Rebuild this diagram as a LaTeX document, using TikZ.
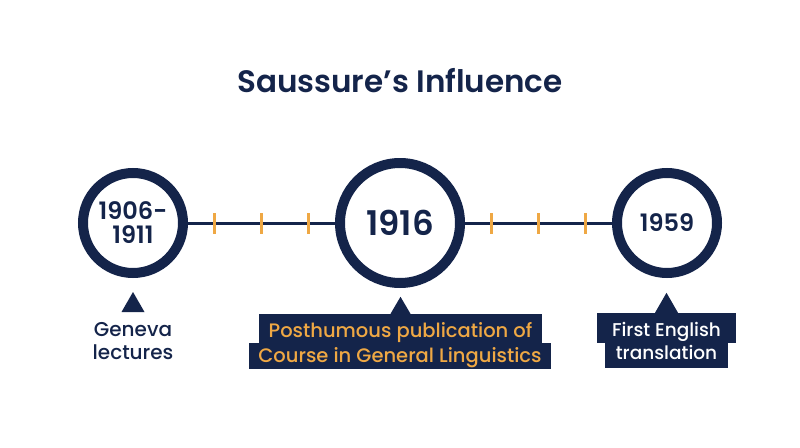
\documentclass[tikz,border=0pt]{standalone}
\usepackage{fontspec}
\setmainfont{Poppins Medium}
\newfontfamily\headfont{Poppins SemiBold}
\usepackage{tikz}
\usetikzlibrary{positioning, calc}
\definecolor{InkNavy}{HTML}{14244A}
\definecolor{TickOrange}{HTML}{EFA844}
\tikzset{
  yearring/.style={circle, draw=InkNavy, line width=10pt, fill=white, text=InkNavy, align=center, inner sep=0pt, minimum size=100pt},
  linkline/.style={draw=InkNavy, line width=3pt},
  tickmark/.style={rectangle, fill=TickOrange, minimum width=2.5pt, minimum height=21pt, inner sep=0pt},
  calloutbox/.style={rectangle, fill=InkNavy, inner sep=0pt, anchor=base, font=\fontsize{18.5}{22}\selectfont},
  pointer/.style={fill=InkNavy},
  plainlabel/.style={text=InkNavy, align=center, font=\fontsize{20}{23}\selectfont}
}
\begin{document}
\begin{tikzpicture}[x=1pt, y=-1pt]
  \useasboundingbox[fill=white] (0,0) rectangle (800,447);
  % title
  \node[anchor=base, text=InkNavy, font=\headfont\fontsize{31}{36}\selectfont] (title) at (400,92) {Saussure’s Influence};
  % year rings
  \node[yearring, font=\headfont\fontsize{24}{24}\selectfont] (early) at (133,223) {1906-\\1911};
  \node[yearring, minimum size=120pt, font=\headfont\fontsize{34}{36}\selectfont] (course) at (400,223) {1916};
  \node[yearring, font=\headfont\fontsize{24}{28}\selectfont] (trans) at (667,223) {1959};
  % links with ticks
  \draw[linkline] (early) -- (course);
  \draw[linkline] (course) -- (trans);
  \foreach \p in {0.18,0.5,0.82} {
    \path (early.east) -- (course.west) node[tickmark, pos=\p] {};
    \path (course.east) -- (trans.west) node[tickmark, pos=\p] {};
  }
  % geneva
  \coordinate (earlytip) at ($(early.south)+(0,14)$);
  \fill[pointer] (earlytip) -- ++(-11.5,20) -- ++(23,0) -- cycle;
  \node[plainlabel] (geneva) at (133,341) {Geneva\\lectures};
  % publication callout
  \node[calloutbox, text=TickOrange, font=\fontsize{19.5}{22}\selectfont, minimum width=283pt, text height=23pt, text depth=6pt] (pubtop) at (400.5,337) {Posthumous publication of};
  \node[calloutbox, text=TickOrange, font=\fontsize{19.5}{22}\selectfont, minimum width=302pt, text height=19pt, text depth=7pt] (pubbot) at (400,362) {Course in General Linguistics};
  \fill[pointer] ($(pubtop.north)+(-10,0)$) -- ($(pubtop.north)+(0,-17)$) -- ($(pubtop.north)+(10,0)$) -- cycle;
  % translation callout
  \node[calloutbox, text=white, minimum width=139pt, text height=23pt, text depth=7pt] (trtop) at (666.5,336) {First English};
  \node[calloutbox, text=white, minimum width=123pt, text height=16pt, text depth=9pt] (trbot) at (666.5,359) {translation};
  \fill[pointer] ($(trtop.north)+(-11.5,0)$) -- ($(trtop.north)+(0,-20)$) -- ($(trtop.north)+(11.5,0)$) -- cycle;
\end{tikzpicture}
\end{document}
